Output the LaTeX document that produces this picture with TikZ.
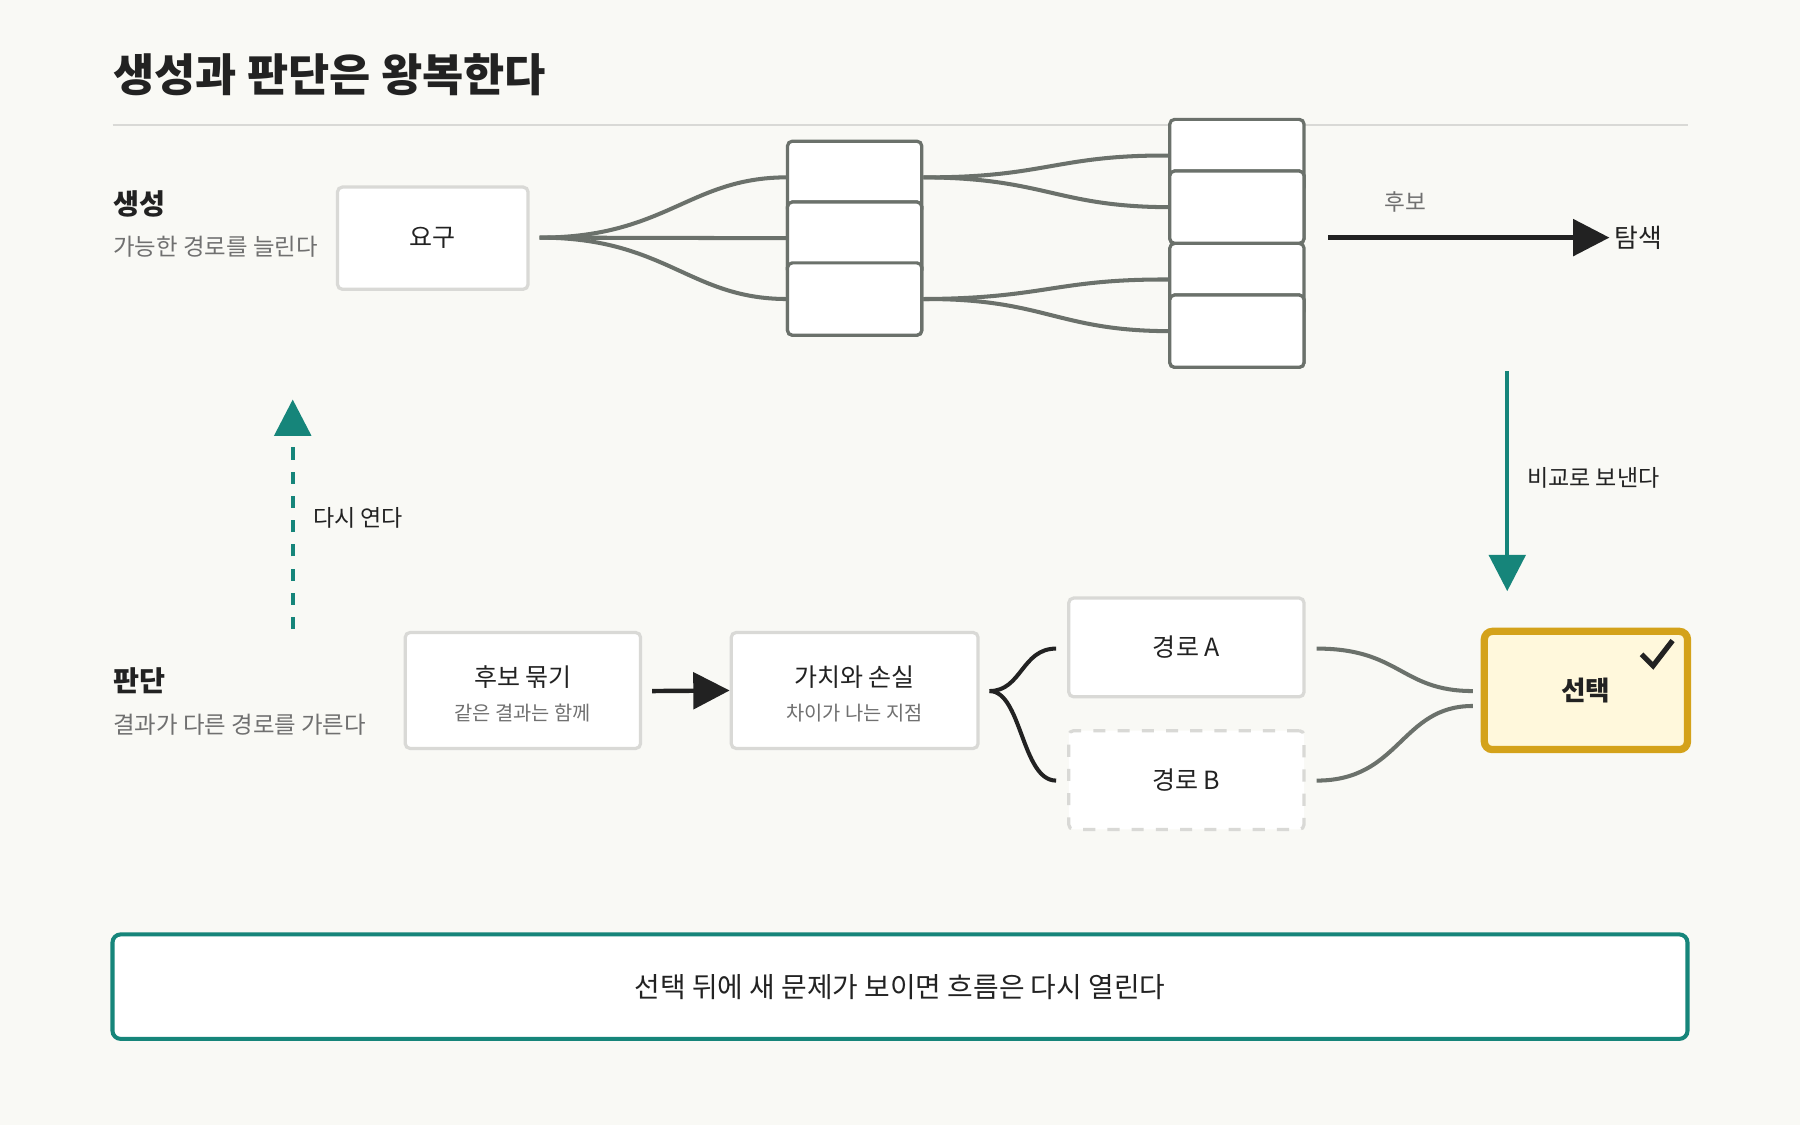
\documentclass[tikz,border=0pt]{standalone}
\usepackage{fontspec}
\setmainfont{Noto Sans CJK KR}
\usetikzlibrary{arrows.meta,positioning}
\definecolor{bgc}{HTML}{F9F9F5}
\definecolor{teal}{HTML}{16857A}
\definecolor{wire}{HTML}{6B716B}
\definecolor{gold}{HTML}{D4A21A}
\definecolor{goldfill}{HTML}{FFF8DC}
\definecolor{lite}{HTML}{D9D9D6}
\definecolor{txt}{HTML}{222222}
\definecolor{sub}{HTML}{707070}
\tikzset{
  box/.style={draw=lite, line width=0.8pt, fill=white, rounded corners=1.2pt, text=txt, font=\fontsize{6.2}{7}\selectfont, align=center},
  cell/.style={draw=wire, line width=0.8pt, fill=white, rounded corners=1.2pt, minimum width=117\unit, minimum height=63\unit},
  wires/.style={wire, line width=1pt},
  lbl/.style={text=txt, font=\fontsize{5.7}{6}\selectfont},
  note/.style={text=sub, font=\fontsize{5.8}{6}\selectfont, anchor=west, inner sep=0pt},
  head/.style={text=txt, font=\fontsize{7}{8}\selectfont\bfseries, anchor=west, inner sep=0pt},
}
\newlength{\unit}\setlength{\unit}{0.01cm}
\begin{document}
\begin{tikzpicture}[x=0.01cm,y=-0.01cm]
\fill[bgc] (0,0) rectangle (1568,980);
\useasboundingbox (0,0) rectangle (1568,980);

% title
\node[text=txt, anchor=west, inner sep=0pt, font=\fontsize{11.1}{13}\selectfont\bfseries] (title) at (98,65) {생성과 판단은 왕복한다};
\draw[lite, line width=0.6pt] (98,109) -- (1470,109);

% generation row
\node[head] (gen) at (98,178) {생성};
\node[note] (gennote) at (98,215) {가능한 경로를 늘린다};
\node[box, minimum width=166\unit, minimum height=89\unit] (need) at (377,207.5) {요구};
\coordinate (needout) at (470,207);

\node[cell] (a1) at (744.5,154.5) {};
\node[cell] (a2) at (744.5,207.5) {};
\node[cell] (a3) at (744.5,260.5) {};
\node[cell] (b1) at (1077.5,135.5) {};
\node[cell] (b2) at (1077.5,180.5) {};
\node[cell] (b3) at (1077.5,243.5) {};
\node[cell] (b4) at (1077.5,288.5) {};

\draw[wires] (needout) .. controls (580,207) and (600,155) .. (a1.west);
\draw[wires] (needout) -- (a2.west);
\draw[wires] (needout) .. controls (580,207) and (600,260) .. (a3.west);
\draw[wires] (a1.east) .. controls (910,155) and (920,135) .. (b1.west);
\draw[wires] (a1.east) .. controls (910,155) and (920,180) .. (b2.west);
\draw[wires] (a3.east) .. controls (910,260) and (920,243) .. (b3.west);
\draw[wires] (a3.east) .. controls (910,260) and (920,288) .. (b4.west);
% redraw middle cells over wires
\node[cell] at (744.5,207.5) {};
\node[cell] at (744.5,260.5) {};
\node[cell] at (1077.5,180.5) {};
\node[cell] at (1077.5,288.5) {};

\node[text=sub, font=\fontsize{5.6}{6}\selectfont] (cand) at (1224,176) {후보};
\coordinate (exfrom) at (1157,207);
\node[text=txt, anchor=west, inner sep=1pt, font=\fontsize{6.4}{7}\selectfont] (explore) at (1402,207) {탐색};
\draw[txt, line width=1.1pt, -{Triangle[length=9pt,width=9pt]}] (exfrom) -- (explore.west);

% to compare
\coordinate (cmpfrom) at (1313,323);
\coordinate (cmpto) at (1313,515);
\draw[teal, line width=1.1pt, -{Triangle[length=9pt,width=9pt]}] (cmpfrom) -- (cmpto);
\node[lbl] (cmplbl) at (1388,416) {비교로 보낸다};

% reopen
\coordinate (reofrom) at (255,548);
\coordinate (reoto) at (255,348);
\draw[teal, line width=1.1pt, dash pattern=on 3pt off 3pt, -{Triangle[length=9pt,width=9pt]}] (reofrom) -- (reoto);
\node[lbl] (reolbl) at (312,451) {다시 연다};

% judgement row
\node[head] (judge) at (98,593) {판단};
\node[note] (judgenote) at (98,631) {결과가 다른 경로를 가른다};

\node[box, minimum width=205\unit, minimum height=101\unit] (group) at (455.5,601.5) {};
\node[box, draw=none, fill=none] at (455.5,590) {후보 묶기};
\node[text=sub, font=\fontsize{4.9}{5}\selectfont] at (455.5,621) {같은 결과는 함께};

\node[box, minimum width=215\unit, minimum height=101\unit] (value) at (744.5,601.5) {};
\node[box, draw=none, fill=none] at (744.5,590) {가치와 손실};
\node[text=sub, font=\fontsize{4.9}{5}\selectfont] at (744.5,621) {차이가 나는 지점};

\draw[txt, line width=1.1pt, -{Triangle[length=9pt,width=9pt]}] (568,602) -- (value.west);

\node[box, minimum width=205\unit, minimum height=86\unit] (pa) at (1033.5,564) {경로 A};
\node[box, dashed, minimum width=205\unit, minimum height=86\unit] (pb) at (1033.5,679.5) {경로 B};

\coordinate (brace) at (862,602);
\draw[txt, line width=1pt] (brace) .. controls (890,602) and (890,565) .. (920,565);
\draw[txt, line width=1pt] (brace) .. controls (890,602) and (890,680) .. (920,680);

\node[draw=gold, line width=1.8pt, fill=goldfill, rounded corners=2pt, minimum width=177\unit, minimum height=103\unit, text=txt, font=\fontsize{6.6}{7}\selectfont\bfseries] (pick) at (1381.5,601.5) {선택};
\draw[txt, line width=1.3pt] (1430,570) -- (1440,580) -- (1457,558);

\draw[wires] (1147,565) .. controls (1220,565) and (1220,602) .. (1283,602);
\draw[wires] (1147,680) .. controls (1220,680) and (1220,615) .. (1283,615);

% footer
\node[draw=teal, line width=1pt, fill=white, rounded corners=2pt, minimum width=1372\unit, minimum height=91\unit, text=txt, font=\fontsize{6.9}{8}\selectfont] (foot) at (784,859.5) {선택 뒤에 새 문제가 보이면 흐름은 다시 열린다};
\end{tikzpicture}
\end{document}
